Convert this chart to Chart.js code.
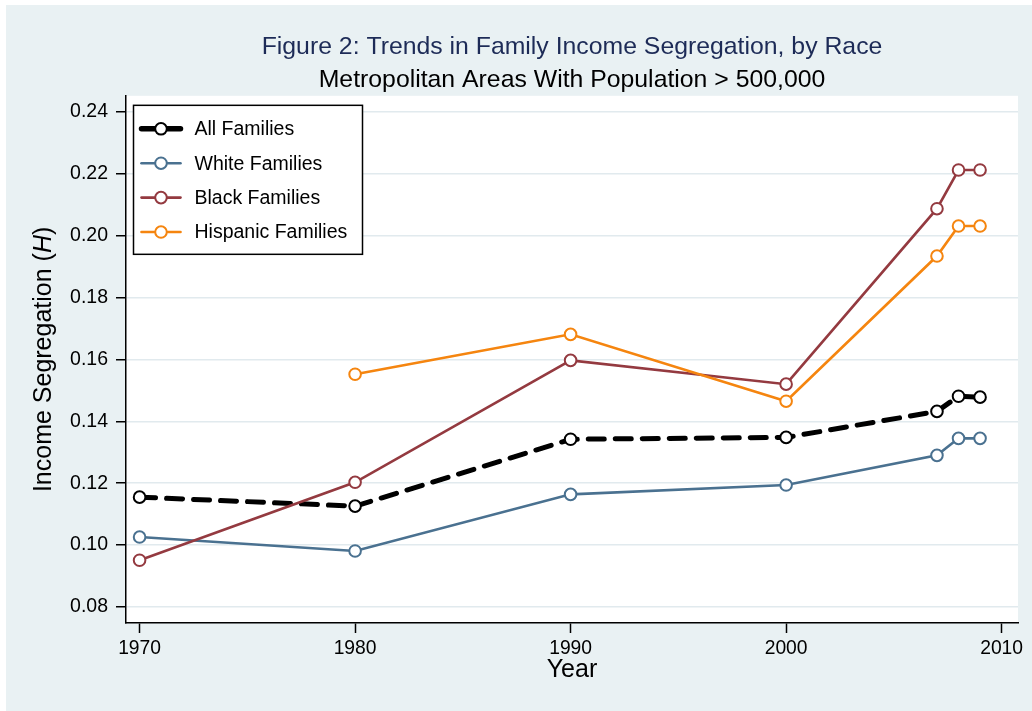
<!DOCTYPE html>
<html>
<head>
<meta charset="utf-8">
<script src="https://cdn.jsdelivr.net/npm/chart.js@4/dist/chart.umd.min.js"></script>
<style>
  html, body { margin: 0; padding: 0; background: #ffffff; }
  #wrap { position: absolute; left: 0; top: 0; width: 1032px; height: 711px; }
  canvas { display: block; }
</style>
</head>
<body>
<div id="wrap"><canvas id="c" width="1032" height="711" style="width:1032px;height:711px"></canvas></div>
<script>
const years = [1970, 1980, 1990, 2000, 2007, 2008, 2009];
const allFamilies      = [0.1155, 0.1126, 0.1342, 0.1348, 0.1432, 0.1481, 0.1478];
const whiteFamilies    = [0.1026, 0.0981, 0.1164, 0.1194, 0.1290, 0.1345, 0.1345];
const blackFamilies    = [0.0951, 0.1203, 0.1597, 0.1520, 0.2087, 0.2212, 0.2212];
const hispanicFamilies = [null,   0.1552, 0.1681, 0.1465, 0.1934, 0.2031, 0.2031];
const seriesNames = ['All Families', 'White Families', 'Black Families', 'Hispanic Families'];
const yTicks = [0.08, 0.10, 0.12, 0.14, 0.16, 0.18, 0.20, 0.22, 0.24];
const xTicks = [1970, 1980, 1990, 2000, 2010];
const titleText = 'Figure 2: Trends in Family Income Segregation, by Race';
const subtitleText = 'Metropolitan Areas With Population > 500,000';
const xTitle = 'Year';
const yTitleParts = ['Income Segregation (', 'H', ')'];

const FONT = '"Liberation Sans", Arial, Helvetica, sans-serif';
const BG = '#e9f1f3';
const GRID = '#e1eaee';
const colors = ['#000000', '#4a7190', '#943a40', '#f5850f'];
const widths = [5, 2.6, 2.6, 2.6];

function pts(vals) { return years.map((y, i) => ({ x: y, y: vals[i] })); }
const seriesVals = [allFamilies, whiteFamilies, blackFamilies, hispanicFamilies];

const datasets = seriesVals.map((vals, i) => ({
  label: seriesNames[i],
  data: pts(vals),
  borderColor: colors[i],
  borderWidth: widths[i],
  borderDash: i === 0 ? [16, 11] : [],
  borderCapStyle: i === 0 ? 'round' : 'butt',
  pointRadius: 5.8,
  pointHoverRadius: 5.8,
  pointBackgroundColor: '#ffffff',
  pointBorderColor: colors[i],
  pointBorderWidth: 2,
  tension: 0,
  spanGaps: false,
  order: 4 - i
}));

const bgPlugin = {
  id: 'bgPlugin',
  beforeDraw(chart) {
    const { ctx, chartArea: a } = chart;
    ctx.save();
    ctx.fillStyle = '#ffffff';
    ctx.fillRect(0, 0, chart.width, chart.height);
    ctx.fillStyle = BG;
    ctx.fillRect(6, 5, chart.width - 6, chart.height - 5);
    ctx.fillStyle = '#ffffff';
    ctx.fillRect(a.left, a.top, a.right - a.left, a.bottom - a.top);
    ctx.restore();
  }
};

const decorPlugin = {
  id: 'decorPlugin',
  afterDraw(chart) {
    const { ctx, chartArea: a } = chart;
    ctx.save();
    // y-axis title with italic H
    ctx.translate(44, (a.top + a.bottom) / 2);
    ctx.rotate(-Math.PI / 2);
    ctx.fillStyle = '#000';
    ctx.textBaseline = 'middle';
    const fonts = ['25px ' + FONT, 'italic 25px ' + FONT, '25px ' + FONT];
    let total = 0;
    const w = yTitleParts.map((t, i) => { ctx.font = fonts[i]; const m = ctx.measureText(t).width; total += m; return m; });
    let x = -total / 2;
    yTitleParts.forEach((t, i) => { ctx.font = fonts[i]; ctx.textAlign = 'left'; ctx.fillText(t, x, 0); x += w[i]; });
    ctx.restore();

    // legend box
    ctx.save();
    const bx = a.left + 7.5, by = a.top + 9.5, bw = 229, bh = 149;
    ctx.fillStyle = '#ffffff';
    ctx.fillRect(bx, by, bw, bh);
    ctx.strokeStyle = '#000';
    ctx.lineWidth = 1.5;
    ctx.strokeRect(bx, by, bw, bh);
    chart.data.datasets.forEach((ds, i) => {
      const yy = by + 23.5 + i * 34.4;
      ctx.beginPath();
      ctx.strokeStyle = ds.borderColor;
      ctx.lineWidth = i === 0 ? 5.5 : 2.6;
      ctx.lineCap = 'round';
      ctx.moveTo(bx + 8, yy);
      ctx.lineTo(bx + 47, yy);
      ctx.stroke();
      ctx.beginPath();
      ctx.arc(bx + 27.5, yy, 5.8, 0, Math.PI * 2);
      ctx.fillStyle = '#ffffff';
      ctx.fill();
      ctx.lineWidth = 2;
      ctx.stroke();
      ctx.fillStyle = '#000';
      ctx.font = '19.5px ' + FONT;
      ctx.textAlign = 'left';
      ctx.textBaseline = 'middle';
      ctx.fillText(ds.label, bx + 61, yy + 1);
    });
    ctx.restore();
  }
};

new Chart(document.getElementById('c'), {
  type: 'line',
  data: { datasets },
  options: {
    responsive: false,
    animation: false,
    devicePixelRatio: 1,
    layout: { padding: { left: 0, right: 14, top: 0, bottom: 0 } },
    plugins: {
      legend: { display: false },
      tooltip: { enabled: false },
      title: {
        display: true, text: titleText, color: '#1d2b57', fullSize: false,
        font: { family: FONT, size: 24.8, weight: 'normal' },
        padding: { top: 32.1, bottom: 3.6 }
      },
      subtitle: {
        display: true, text: subtitleText, color: '#000000', fullSize: false,
        font: { family: FONT, size: 24.8, weight: 'normal' },
        padding: { top: 0, bottom: 0.6 }
      }
    },
    scales: {
      x: {
        type: 'linear', min: 1969.37, max: 2010.76,
        afterBuildTicks: s => { s.ticks = xTicks.map(v => ({ value: v })); },
        afterFit: s => { s.height = 88; },
        grid: { drawOnChartArea: false, drawTicks: true, tickLength: 10, tickColor: '#000', tickWidth: 1.5, color: GRID },
        border: { display: true, color: '#000', width: 1.5 },
        ticks: { color: '#000', font: { family: FONT, size: 19.3 }, padding: 4, maxRotation: 0, autoSkip: false,
                 callback: v => String(v) },
        title: { display: true, text: xTitle, color: '#000', font: { family: FONT, size: 25 }, padding: { top: 0, bottom: 26 } }
      },
      y: {
        type: 'linear', min: 0.07483, max: 0.24517,
        afterBuildTicks: s => { s.ticks = yTicks.map(v => ({ value: v })); },
        afterFit: s => { s.width = 126; },
        grid: { drawOnChartArea: true, drawTicks: true, tickLength: 10, color: GRID, lineWidth: 1.5, tickColor: '#000', tickWidth: 1.5 },
        border: { display: true, color: '#000', width: 1.5 },
        ticks: { color: '#000', font: { family: FONT, size: 19.5 }, padding: 8, autoSkip: false,
                 callback: v => v.toFixed(2) }
      }
    }
  },
  plugins: [bgPlugin, decorPlugin]
});
</script>
</body>
</html>
